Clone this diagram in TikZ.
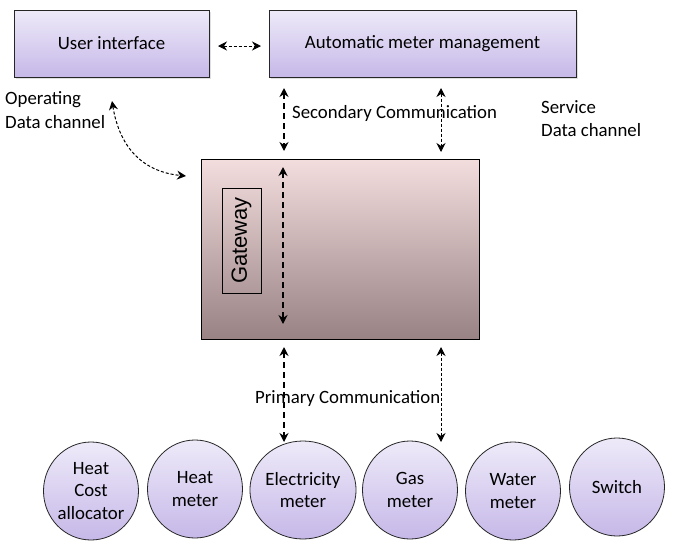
\documentclass[tikz,border=0pt]{standalone}
\usepackage{fontspec}
\setmainfont{Carlito}
\newfontfamily\arialf{Liberation Sans}
\usetikzlibrary{arrows.meta,shadows,shapes.geometric}
\definecolor{lavtop}{RGB}{238,234,249}
\definecolor{lavbot}{RGB}{198,184,232}
\definecolor{gwtop}{RGB}{243,221,221}
\definecolor{gwbot}{RGB}{152,130,132}
\tikzset{
  txt/.style={font=\fontsize{18.8}{22.5}\selectfont},
  topbox/.style={txt, draw=black!85, line width=0.8pt, top color=lavtop, bottom color=lavbot,
     drop shadow={shadow xshift=1.5pt, shadow yshift=-2pt, opacity=0.25}, inner sep=0pt},
  meter/.style={txt, ellipse, draw=black!85, line width=0.8pt, top color=lavtop, bottom color=lavbot,
     minimum width=95pt, minimum height=98pt, inner sep=0pt, align=center},
  tip/.style={{Stealth[length=9pt,width=9pt,inset=3pt]}-{Stealth[length=9pt,width=9pt,inset=3pt]}},
  thickarr/.style={tip, line width=1.8pt, dash pattern=on 6pt off 4pt},
  thinarr/.style={tip, line width=1pt, dash pattern=on 3pt off 2pt},
  lbl/.style={txt, inner sep=0pt, align=left},
}
\begin{document}
\begin{tikzpicture}[x=1pt,y=-1pt]
\useasboundingbox[fill=white] (0,0) rectangle (673,555);

% top boxes
\node[topbox, minimum width=195pt, minimum height=67pt] (ui) at (111.5,43.5) {User interface};
\node[topbox, minimum width=307pt, minimum height=67pt] (amm) at (422.5,43.5) {Automatic meter management};

% gateway
\node[draw=black, line width=0.9pt, top color=gwtop, bottom color=gwbot,
      minimum width=278pt, minimum height=180pt, inner sep=0pt] (gw) at (340,249) {};
\node[draw=black, line width=0.7pt, minimum width=39pt, minimum height=105pt, inner sep=0pt] (gwl) at (241.5,240.5) {};
\node[rotate=90, font=\arialf\fontsize{22}{24}\selectfont, inner sep=0pt] (gwt) at (gwl.center) {Gateway};

% labels
\node[lbl, anchor=west] (opl) at (5,100) {Operating};
\node[lbl, anchor=west] (opl2) at (5,122) {Data channel};
\node[lbl, anchor=west] (svl) at (541,107) {Service};
\node[lbl, anchor=west] (svl2) at (541,130) {Data channel};
\node[lbl, anchor=west] (sec) at (292,113) {Secondary Communication};
\node[lbl, anchor=west] (pri) at (255,399) {Primary Communication};

% meters
\node[meter] (m1) at (91,491) {Heat\\Cost\\allocator};
\node[meter] (m2) at (195,489) {Heat\\meter};
\node[meter] (m3) at (303,490) {Electricity\\meter};
\node[meter] (m4) at (410,490) {Gas\\meter};
\node[meter] (m5) at (513,491) {Water\\meter};
\node[meter] (m6) at (617,487) {Switch};

% arrow end points
\coordinate (h1) at (218,46);
\coordinate (h2) at (261,46);
\coordinate (a1) at (284,88);
\coordinate (a2) at (284,151);
\coordinate (b1) at (441,88);
\coordinate (b2) at (441,152);
\coordinate (g1) at (283,167);
\coordinate (g2) at (283,324);
\coordinate (c1) at (284,347);
\coordinate (c2) at (284,442);
\coordinate (d1) at (441,347);
\coordinate (d2) at (441,442);
\coordinate (o1) at (112,101);
\coordinate (o2) at (186,176);

\draw[thinarr] (h1) -- (h2);
\draw[thickarr] (a1) -- (a2);
\draw[thinarr] (b1) -- (b2);
\draw[thickarr] (g1) -- (g2);
\draw[thickarr] (c1) -- (c2);
\draw[thinarr] (d1) -- (d2);
\draw[thinarr] (o1) .. controls (120,150) and (145,172) .. (o2);
\end{tikzpicture}
\end{document}
